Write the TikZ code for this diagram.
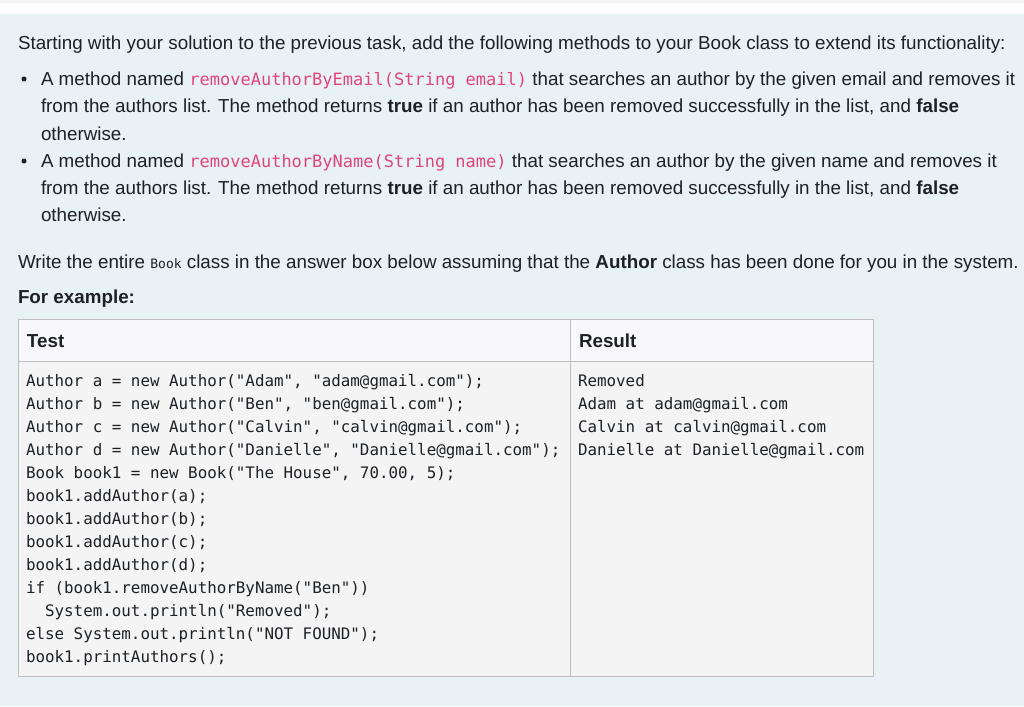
\documentclass[tikz,border=0pt]{standalone}
\usepackage{fontspec}
\usepackage{xcolor}
\setmainfont{Liberation Sans}
\setmonofont{DejaVu Sans Mono}
\definecolor{pagebg}{HTML}{E8F1F4}
\definecolor{inktext}{HTML}{1D2125}
\definecolor{codepink}{HTML}{E0457E}
\definecolor{headfill}{HTML}{F8F8FC}
\definecolor{bodyfill}{HTML}{F4F4F4}
\definecolor{gridline}{HTML}{BDBDBD}
\newcommand{\pinkcode}[1]{{\fontsize{17}{20}\selectfont\ttfamily\color{codepink}#1}}

\begin{document}
\begin{tikzpicture}[x=1pt,y=-1pt]
  \tikzset{TextStyle/.style = {
    anchor        = base west,
    text          = inktext,
    inner sep     = 0pt,
    outer sep     = 0pt,
    font          = \fontsize{18.8}{22}\selectfont
    }
  }
  \tikzset{CodeStyle/.style = {
    anchor        = base west,
    text          = inktext,
    inner sep     = 0pt,
    outer sep     = 0pt,
    font          = \fontsize{15.85}{20}\selectfont\ttfamily
    }
  }
  \tikzset{BulletStyle/.style = {
    shape         = circle,
    fill          = inktext,
    inner sep     = 0pt,
    minimum size  = 5pt
    }
  }
  \tikzset{CellStyle/.style = {
    draw          = gridline,
    line width    = 1pt
    }
  }

  \useasboundingbox (0,0) rectangle (1024,706);
  \fill[white] (0,0) rectangle (1024,14);
  \fill[black!4] (0,0) rectangle (1024,3);
  \fill[pagebg] (0,14) rectangle (1024,706);

	\node[TextStyle](P1) at (18,50) {Starting with your solution to the previous task, add the following methods to your Book class to extend its functionality:};
	\node[BulletStyle](D1) at (24,79) {};
	\node[TextStyle](E1) at (41,86) {A method named \pinkcode{removeAuthorByEmail(String email)} that searches an author by the given email and removes it};
	\node[TextStyle](E2) at (41,113) {from the authors list. The method returns \textbf{true} if an author has been removed successfully in the list, and \textbf{false}};
	\node[TextStyle](E3) at (41,140) {otherwise.};
	\node[BulletStyle](D2) at (24,161) {};
	\node[TextStyle](N1) at (41,167) {A method named \pinkcode{removeAuthorByName(String name)} that searches an author by the given name and removes it};
	\node[TextStyle](N2) at (41,194) {from the authors list. The method returns \textbf{true} if an author has been removed successfully in the list, and \textbf{false}};
	\node[TextStyle](N3) at (41,221) {otherwise.};
	\node[TextStyle](P2) at (18,268) {Write the entire {\fontsize{13}{15}\selectfont\ttfamily Book} class in the answer box below assuming that the \textbf{Author} class has been done for you in the system.};
	\node[TextStyle](P3) at (18,303) {\textbf{For example:}};

  % table
  \filldraw[CellStyle, fill=headfill] (18,319) rectangle (873,361);
  \filldraw[CellStyle, fill=bodyfill] (18,361) rectangle (873,676);
  \draw[CellStyle] (570,319) -- (570,676);
	\node[TextStyle](H1) at (27,347) {\textbf{Test}};
	\node[TextStyle](H2) at (579,347) {\textbf{Result}};

	\node[CodeStyle](T01) at (26,386) {Author a = new Author("Adam", "adam@gmail.com");};
	\node[CodeStyle](T02) at (26,409) {Author b = new Author("Ben", "ben@gmail.com");};
	\node[CodeStyle](T03) at (26,432) {Author c = new Author("Calvin", "calvin@gmail.com");};
	\node[CodeStyle](T04) at (26,455) {Author d = new Author("Danielle", "Danielle@gmail.com");};
	\node[CodeStyle](T05) at (26,478) {Book book1 = new Book("The House", 70.00, 5);};
	\node[CodeStyle](T06) at (26,501) {book1.addAuthor(a);};
	\node[CodeStyle](T07) at (26,524) {book1.addAuthor(b);};
	\node[CodeStyle](T08) at (26,547) {book1.addAuthor(c);};
	\node[CodeStyle](T09) at (26,570) {book1.addAuthor(d);};
	\node[CodeStyle](T10) at (26,593) {if (book1.removeAuthorByName("Ben"))};
	\node[CodeStyle](T11) at (45.1,616) {System.out.println("Removed");};
	\node[CodeStyle](T12) at (26,639) {else System.out.println("NOT FOUND");};
	\node[CodeStyle](T13) at (26,662) {book1.printAuthors();};

	\node[CodeStyle](R1) at (578,386) {Removed};
	\node[CodeStyle](R2) at (578,409) {Adam at adam@gmail.com};
	\node[CodeStyle](R3) at (578,432) {Calvin at calvin@gmail.com};
	\node[CodeStyle](R4) at (578,455) {Danielle at Danielle@gmail.com};

\end{tikzpicture}
\end{document}
